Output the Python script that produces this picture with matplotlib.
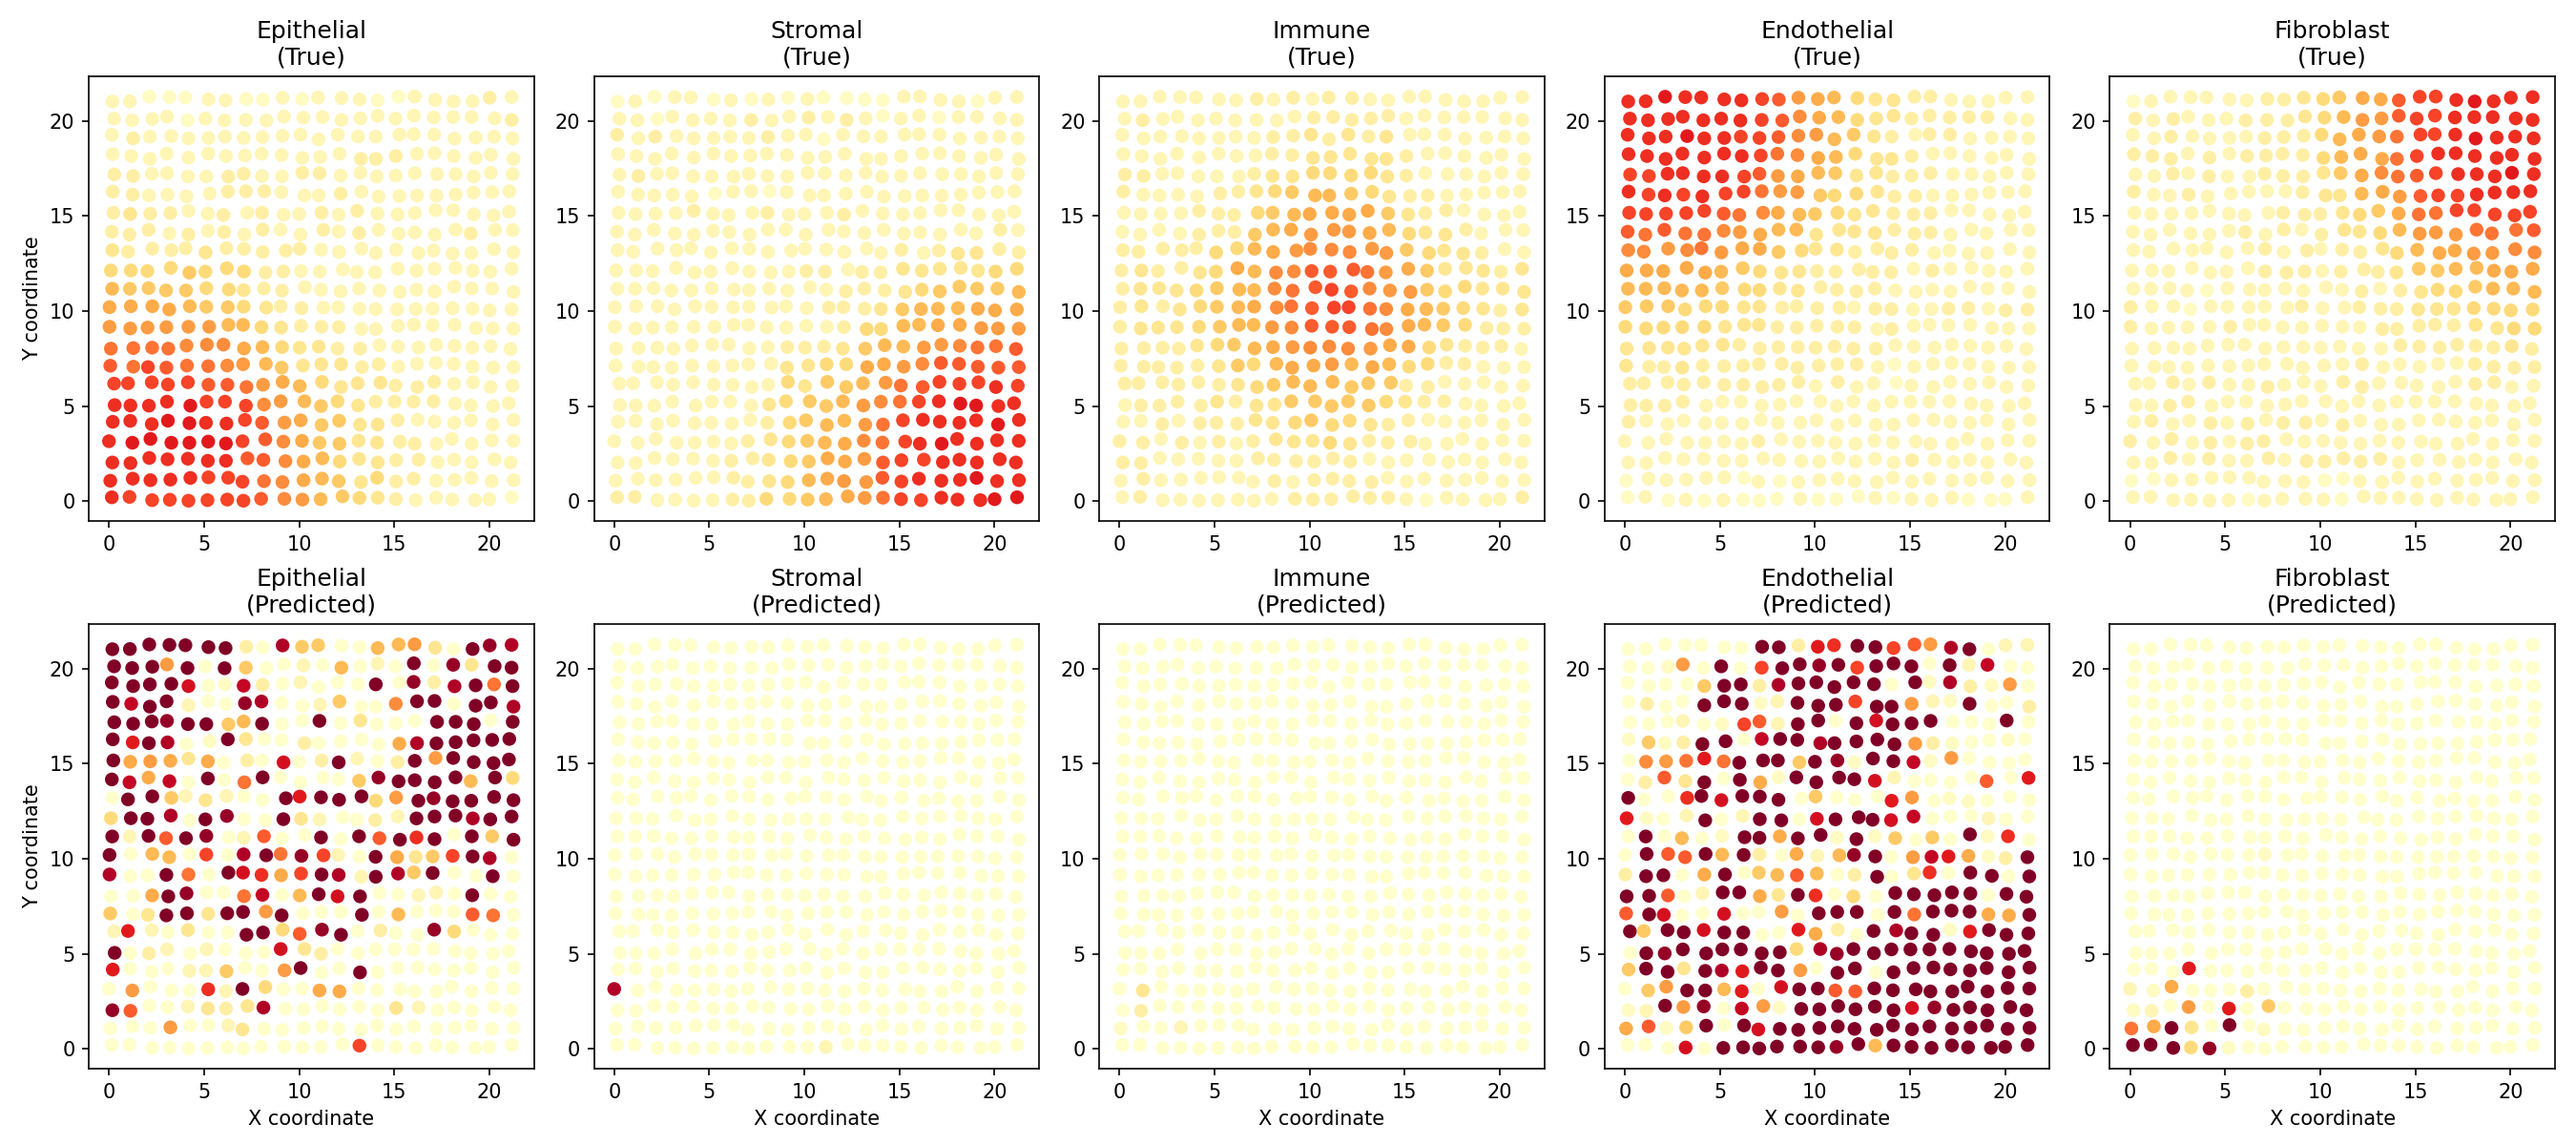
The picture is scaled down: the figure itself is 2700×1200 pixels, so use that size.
import numpy as np
import matplotlib
matplotlib.use("Agg")
import matplotlib.pyplot as plt

# Spot offsets from the integer grid, in hundredths of a grid unit.
# Rows run from y = 21 down to y = 0; columns from x = 0 to x = 21.
X_OFFSET = [
    [18,10,12,18,2,23,13,22,10,13,15,0,23,18,13,23,7,15,12,12,2,17],
    [27,22,28,5,13,7,8,20,28,20,22,23,22,22,13,7,3,8,10,7,28,17],
    [15,27,15,28,18,23,10,8,8,13,7,2,3,10,3,27,2,10,17,28,25,22],
    [20,17,15,3,18,22,15,15,2,8,17,10,12,25,3,8,20,12,13,28,8,27],
    [28,27,25,5,15,12,28,8,5,10,17,7,18,22,8,8,8,25,23,18,8,23],
    [20,25,10,8,8,30,25,20,17,7,28,3,18,28,18,27,20,22,23,17,15,5],
    [23,12,17,23,18,20,2,27,5,18,0,18,8,5,12,18,8,17,10,18,22,3],
    [15,8,8,18,18,20,5,12,8,2,7,27,7,15,17,23,8,13,22,2,30,23],
    [18,0,28,28,3,8,18,10,8,30,3,15,10,28,3,10,27,7,7,5,25,27],
    [10,15,2,25,23,7,20,10,23,17,10,8,30,3,0,18,17,12,22,13,5,17],
    [17,10,8,0,5,12,30,8,15,10,30,15,18,15,22,30,17,12,15,8,15,27],
    [3,15,28,17,25,12,25,8,27,3,12,28,5,17,2,15,13,2,7,12,2,17],
    [3,12,3,2,18,27,28,5,2,5,10,18,8,27,3,20,3,2,17,30,18,27],
    [10,28,27,12,8,15,2,10,7,10,3,3,2,20,22,20,28,20,17,10,7,12],
    [7,28,5,2,10,22,22,5,25,8,20,17,20,30,18,22,20,18,13,12,20,27],
    [27,0,25,10,15,23,23,23,10,13,3,20,20,8,27,7,22,10,15,15,7,22],
    [30,13,10,5,28,13,10,20,15,3,28,15,2,10,2,2,2,7,20,3,20,2],
    [20,12,25,10,23,10,18,15,5,23,8,18,10,20,13,18,23,12,15,3,18,28],
    [0,23,18,28,23,22,15,2,22,17,15,7,12,12,10,30,7,22,3,7,13,27],
    [18,13,12,8,15,20,15,28,12,28,23,22,13,15,13,10,28,28,15,7,27,12],
    [7,25,18,23,28,23,27,2,15,12,23,20,8,25,10,10,2,20,18,5,13,28],
    [15,8,27,20,18,18,22,7,0,22,17,13,28,17,13,8,13,20,5,25,0,18],
]
Y_OFFSET = [
    [2,3,27,25,23,13,8,15,12,22,15,23,20,13,8,27,28,10,2,3,22,25],
    [12,3,10,22,3,12,2,5,2,23,17,20,5,13,27,12,28,18,20,20,13,5],
    [27,8,17,20,8,10,17,10,15,22,28,3,28,18,17,28,30,28,7,12,17,8],
    [25,15,0,28,7,28,15,18,27,20,5,10,27,0,0,15,28,30,15,5,22,0],
    [18,10,22,25,8,8,7,22,10,8,27,25,13,27,7,12,25,20,20,8,27,20],
    [28,12,8,12,3,18,28,30,30,25,8,8,17,27,2,5,8,7,13,23,25,30],
    [17,10,12,15,27,12,5,17,17,7,10,17,7,27,13,8,15,30,30,8,3,22],
    [17,2,27,8,2,22,15,2,28,28,2,27,18,10,27,7,13,2,28,8,27,25],
    [20,12,28,20,30,8,30,27,10,18,27,23,10,28,5,22,5,18,2,5,25,8],
    [13,13,10,27,2,7,25,8,2,8,10,7,18,5,3,22,12,22,27,12,7,22],
    [17,17,20,8,8,20,13,10,18,7,25,12,3,18,8,0,12,3,28,18,18,0],
    [20,25,25,8,25,22,20,23,18,25,15,18,20,12,10,8,10,12,15,12,3,8],
    [17,8,13,15,17,17,27,27,15,13,22,17,15,5,5,22,28,25,27,10,8,7],
    [2,5,7,2,18,23,23,3,10,10,7,13,2,2,20,13,8,23,17,8,15,0],
    [12,7,5,2,13,10,13,20,22,2,13,20,20,5,20,7,22,27,22,7,2,5],
    [18,20,25,13,25,12,12,0,12,27,5,27,0,20,23,8,0,27,17,25,0,7],
    [5,3,2,23,2,23,23,2,8,25,25,0,25,3,23,23,23,25,13,3,0,15],
    [17,22,5,23,10,12,8,27,12,13,25,0,23,2,3,25,28,18,12,25,3,27],
    [15,7,27,7,7,13,3,15,25,13,17,7,2,18,8,13,2,2,27,2,20,17],
    [3,0,27,20,23,12,12,25,17,10,8,25,8,22,3,15,18,5,18,3,20,3],
    [7,18,10,13,22,25,23,2,5,0,10,18,5,0,23,3,18,7,12,22,5,10],
    [20,22,5,7,2,5,8,2,12,12,8,10,25,17,18,10,5,18,8,5,10,20],
]

# Cell-type proportions per spot, one character per spot; each character
# indexes PROPORTION_STEPS below.
EPITHELIAL_TRUE = [
    "2211122112122211222232", "2222122222222222222223", "2322222222222222222222",
    "2222222222222333222222", "3322223322332222222222", "3322223332223222222222",
    "3433223232232322222222", "3332323232232322222322", "4333343333322222222222",
    "5555655533222222222222", "7666655433222222222222", "8888766543322222222222",
    "9999997754333222222222", "bbbbaaa875443322222222", "cbdcbba976444332222222",
    "dddddccb98754443332222", "eeeefddda9765433332222", "eeeffeedc9866443222222",
    "effffffdca866443322222", "eeeeeeecca875443322222", "eeeeedddba876453322222",
    "edddddddca976543222221",
]
STROMAL_TRUE = [
    "1212212121211112222122", "2212222322323212212222", "3232222232212222222222",
    "2222222222222222222222", "2322222222222222222222", "2222212212222222222222",
    "2222322232223222222222", "2222222222222222222232", "2222222222222223234433",
    "2222222222332334444455", "2222222222223334566667", "2222222222233346777888",
    "2222222222223557788999", "222222222333467799abbc", "2222222224455889accccc",
    "222222222546679bcddded", "22222222456679abdeffee", "22222222356779bdeeeefe",
    "2222222345678abdefeeee", "22222233456889cddeeeee", "22222233457899cdeeefee",
    "33222233556789bddeeeff",
]
IMMUNE_TRUE = [
    "2222222323233222222222", "2322222222333332222222", "2222222233434342222222",
    "2222222233444443222222", "3322222344555543222222", "3222233456776543322222",
    "2222333567888864332222", "2222333678999875443222", "3333355789aaa996544322",
    "34334587aacccb98644434", "34445677abcdca99655444", "34345678abcddba8765434",
    "344456779acccba8765333", "3333456789aaa988543332", "3333346578897875533222",
    "3333334567776663322222", "2333343446666654332222", "2232333445655433222222",
    "3323232344454333222222", "3322222333333222222222", "2322222232333322222222",
    "2322222223333332122223",
]
ENDOTHELIAL_TRUE = [
    "eefeeeedc9875443322222", "eeeeeeedca875443333322", "eeefeeddca976432332222",
    "eeeeeeedba875443222222", "ddeeeedc98764433322222", "edededdb99655433222222",
    "dddddcba87654433322222", "cbcbba9877444433322222", "aa9ab98865443333222222",
    "8888876544333332322222", "7777765544333322222222", "6665554433332332233233",
    "5555544433333232222222", "4444443333333322222222", "4334333333333212222222",
    "3333333333232212222222", "3333222222222222222222", "3222222222222222222222",
    "2222222322222222222222", "2222222222222223222222", "1222221212222222222222",
    "1212121112111212221112",
]
FIBROBLAST_TRUE = [
    "12222223345688cddefeee", "32322233345799cddeeeee", "22322223335789bddefeee",
    "33323233335788bdeeeeee", "2232322333468abcdeeefe", "322322222344789cddeeee",
    "222222223334568bbddddd", "222222323234457999bbbc", "22222223232334578899aa",
    "2222222333233346677888", "2222122222223234556777", "3221222223223334445555",
    "3222232222222333334455", "2222222222222233333343", "2222222222223222223333",
    "2232322322233222223322", "2233222222222222222222", "2322323233232222222222",
    "3232323322222222222222", "2232322323333322222222", "1122222222112222222222",
    "2222221222212222222222",
]
EPITHELIAL_PRED = [
    "kkkkkkk30i660077940kji", "kkk9k0k600207020k0j4kk", "kkkkg01h302000k0j3ikbk",
    "khkk200ji002600akk0kki", "kkkjkk67k00k04000kkk0k", "kfki01k400300008ikkkkk",
    "k89848030g03k203k9kkkk", "kh8h0k0bk00006jkkkk7k5", "0kk624200kfkkk59kjkkkk",
    "5kki0kj00k420032kkkikk", "k2kckj02c00k0kckek0k6k", "k0770d0ikbjd20k846dki0",
    "i00kb0kge8dki2ki6k00k0", "008kj00bh07kgk00220k00", "604kk4kk9k000k07000cb0",
    "2f20400kk5cjk0300j5000", "k03202000g430000000000", "f000226009k00k00000000",
    "09000e2k50088000000000", "jc002434i0000004200000", "0009002400000000000000",
    "0000000000000d00000000",
]
STROMAL_PRED = [
    "0000000000000000000000", "0000000000000000000000", "0000000000000000000000",
    "0000000000000000000000", "0000000000000000000000", "0000000000000000000000",
    "0000000000000000000000", "0000000000000000000000", "0000000000000000000000",
    "0000000000000000000000", "0000000000000000000000", "0000000000000000000000",
    "0000000000000000000000", "0000000000000000000000", "0000000000000000000000",
    "0000000000000000000000", "0000000000000000000000", "0000000000000000000000",
    "i000000000000000000000", "0000000000000000000000", "0000000000000000000000",
    "0000000000020000000000",
]
IMMUNE_PRED = [
    "0000000000000000000000", "0000000000000000000000", "0000000000000000000000",
    "0000000000000000000000", "0000000000000000000000", "0000000000000000000000",
    "0000000000000000000000", "0000000000000000000000", "0000000000000000000000",
    "0000000000000000000000", "0000000000000000000000", "0000000000000000000000",
    "0000000000000000000000", "0000000000000000000000", "0000000000000000000000",
    "0000000000000000000000", "0000000000000000000000", "0000000000000000000000",
    "0400000000000000000000", "0300000000000000000000", "1002000000000000000000",
    "0000000000000000000000",
]
ENDOTHELIAL_PRED = [
    "0000000kk3fekkdc9ik022", "00190k0dkkjkdkkk0k2h00", "00006kk3ikkkkk0k1i3190",
    "0300kkk12kkkdkk921k003", "000201dc2kk0kgkkk000k0", "1613kk0hkkikkkk9310010",
    "0a9bfbkkk6kj1kkh190000", "03c4k0k81kkkkg20000c0f", "k00ekgkkk06000f9011000",
    "f102k02kk0gkkkgh000200", "0k0701kk8kk1k16060k1e0", "0kcck7k30827jk09hf813k",
    "3kk08k067c703k04e0kk0k", "kkc02kk84ke050kkkkk0kk", "ckg00g0090kkk0kbkkk88k",
    "k6kkgkk00f830kikk1fkkk", "0kjkkkkkk5ijkkkkkkkkkk", "6kk4kifkk90kk0kkkkkkkk",
    "069kk7f0gkkcckkkkkkkkk", "12k9j0h91kkkkkkgjkkkkk", "8c16k0kgkkkkkkkkkkkkkk",
    "000g0kkkkkkjk7kkkkkkkk",
]
FIBROBLAST_PRED = [
    "0000000000000000000000", "0000000000000000000000", "0000000000000000000000",
    "0000000000000000000000", "0000000000000000000000", "0000000000000000000000",
    "0000000000000000000000", "0000000000000000000000", "0000000000000000000000",
    "0000000000000000000000", "0000000000000000000000", "0000000100000000000000",
    "0000000000000000000000", "0000000000000000000000", "0000000000000000000000",
    "0000000000000000000000", "0000000000000000000000", "000f000000000000000000",
    "2180003000000000000000", "12090f0600000000000000", "b8k40k0100000000000000",
    "kkk5j10000000000000000",
]

CELL_TYPES = ["Epithelial", "Stromal", "Immune", "Endothelial", "Fibroblast"]
TRUE_ROWS = [EPITHELIAL_TRUE, STROMAL_TRUE, IMMUNE_TRUE, ENDOTHELIAL_TRUE, FIBROBLAST_TRUE]
PRED_ROWS = [EPITHELIAL_PRED, STROMAL_PRED, IMMUNE_PRED, ENDOTHELIAL_PRED, FIBROBLAST_PRED]
STEP_CODES = "0123456789abcdefghijk"
PROPORTION_STEPS = [0.00, 0.03, 0.07, 0.11, 0.17, 0.24, 0.30, 0.35, 0.40, 0.45, 0.50,
                    0.55, 0.60, 0.65, 0.70, 0.75, 0.80, 0.85, 0.90, 0.95, 1.00]


def decode(rows):
    """Turn coded rows into a flat array of proportions."""
    return np.array([PROPORTION_STEPS[STEP_CODES.index(ch)] for row in rows for ch in row])


columns, row_ids = np.meshgrid(np.arange(22), np.arange(21, -1, -1))
spot_x = (columns + np.array(X_OFFSET) / 100).ravel()
spot_y = (row_ids + np.array(Y_OFFSET) / 100).ravel()

fig, axes = plt.subplots(2, 5, figsize=(18, 8), dpi=150)
fig.subplots_adjust(left=93 / 2700, right=2678 / 2700, top=1 - 80 / 1200,
                    bottom=1 - 1120 / 1200, wspace=0.135, hspace=0.232)

for col, name in enumerate(CELL_TYPES):
    for row, (rows, suffix) in enumerate(((TRUE_ROWS[col], "True"), (PRED_ROWS[col], "Predicted"))):
        ax = axes[row, col]
        ax.scatter(spot_x, spot_y, c=decode(rows), cmap="YlOrRd", vmin=0, vmax=1, s=35)
        ax.set_title(f"{name}\n({suffix})")
        if col == 0:
            ax.set_ylabel("Y coordinate")
        if row == 1:
            ax.set_xlabel("X coordinate")

fig.savefig("out.png", dpi=150)
